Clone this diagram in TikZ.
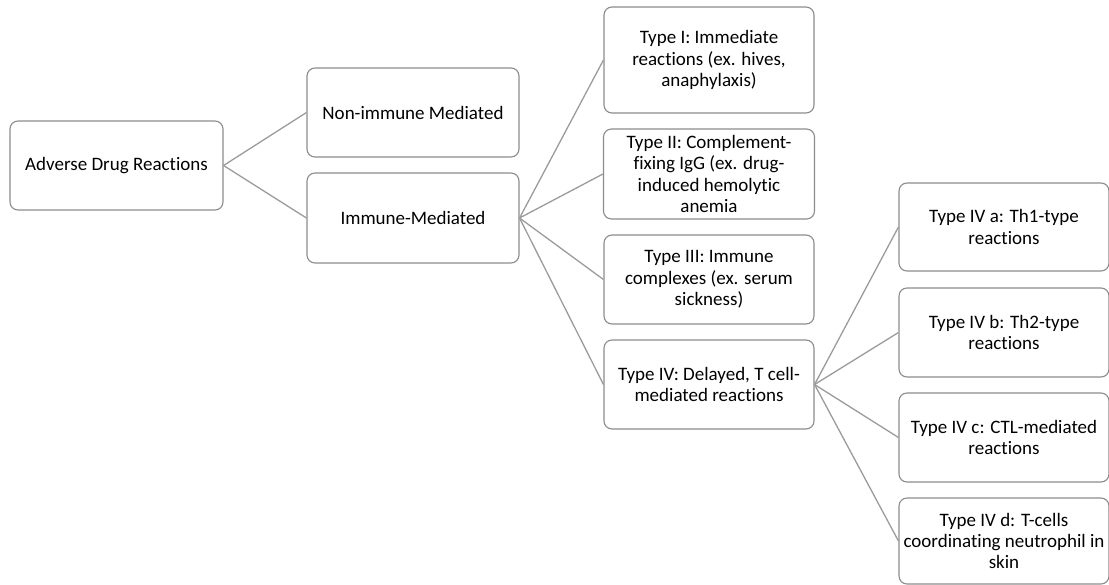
\documentclass[tikz,border=0pt]{standalone}
\usepackage{fontspec}
\setmainfont{Carlito}[Ligatures=NoCommon]
\definecolor{boxgray}{RGB}{140,140,140}
\definecolor{linegray}{RGB}{155,155,155}
\begin{document}
\begin{tikzpicture}[x=1pt,y=-1pt,
  box/.style={draw=boxgray, line width=1.1pt, rounded corners=8pt, fill=white,
    align=center, inner sep=0pt, font=\fontsize{19}{21.3}\selectfont},
  link/.style={draw=linegray, line width=1.3pt}]
\useasboundingbox (0,0) rectangle (1109,584);
\node[box, minimum width=213pt, minimum height=89pt] (adr) at (116.5,165.5) {Adverse Drug Reactions};
\node[box, minimum width=212pt, minimum height=89pt] (non) at (413,112.5) {Non-immune Mediated};
\node[box, minimum width=212pt, minimum height=90pt] (imm) at (413,218) {Immune-Mediated};
\node[box, minimum width=210pt, minimum height=106pt] (t1) at (709,60) {Type I: Immediate\\reactions (ex. hives,\\anaphylaxis)};
\node[box, minimum width=211pt, minimum height=90pt] (t2) at (709,174) {Type II: Complement-\\fixing IgG (ex. drug-\\induced hemolytic\\anemia};
\node[box, minimum width=210pt, minimum height=89pt] (t3) at (709,279.5) {Type III: Immune\\complexes (ex. serum\\sickness)};
\node[box, minimum width=210pt, minimum height=89pt] (t4) at (709,384.5) {Type IV: Delayed, T cell-\\mediated reactions};
\node[box, minimum width=210pt, minimum height=88pt] (t4a) at (1004,227) {Type IV a: Th1-type\\reactions};
\node[box, minimum width=210pt, minimum height=89pt] (t4b) at (1004,332.5) {Type IV b: Th2-type\\reactions};
\node[box, minimum width=210pt, minimum height=89pt] (t4c) at (1004,437.5) {Type IV c: CTL-mediated\\reactions};
\node[box, minimum width=210pt, minimum height=86pt] (t4d) at (1004,541) {Type IV d: T-cells\\coordinating neutrophil in\\skin};
\draw[link] (adr.east) -- (non.west);
\draw[link] (adr.east) -- (imm.west);
\draw[link] (imm.east) -- (t1.west);
\draw[link] (imm.east) -- (t2.west);
\draw[link] (imm.east) -- (t3.west);
\draw[link] (imm.east) -- (t4.west);
\draw[link] (t4.east) -- (t4a.west);
\draw[link] (t4.east) -- (t4b.west);
\draw[link] (t4.east) -- (t4c.west);
\draw[link] (t4.east) -- (t4d.west);
\end{tikzpicture}
\end{document}
